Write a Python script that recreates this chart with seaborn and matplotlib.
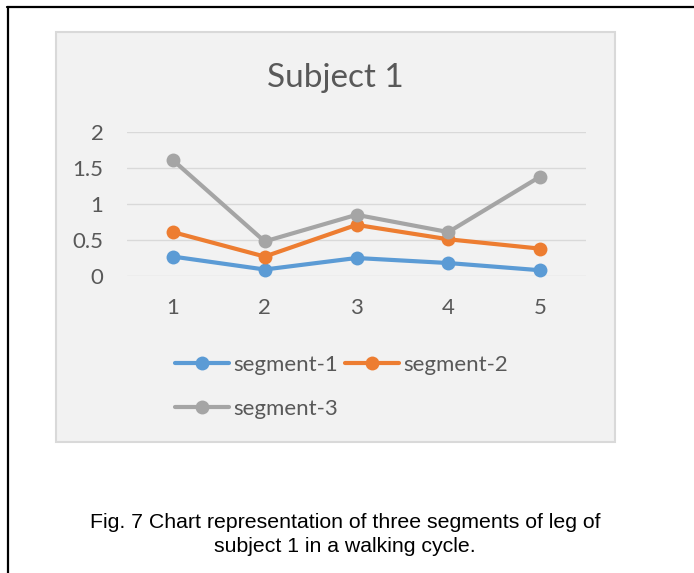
import numpy as np
import pandas as pd
import matplotlib
matplotlib.use("Agg")
import matplotlib.pyplot as plt
from matplotlib.lines import Line2D
from matplotlib.patches import Rectangle
from matplotlib.ticker import FuncFormatter
import seaborn as sns

# Data
positions = [1, 2, 3, 4, 5]
segment_1 = [0.27, 0.09, 0.25, 0.18, 0.08]
segment_2 = [0.61, 0.27, 0.71, 0.51, 0.38]
segment_3 = [1.61, 0.48, 0.85, 0.61, 1.38]
series_names = ["segment-1", "segment-2", "segment-3"]
series_colors = ["#5B9BD5", "#ED7D31", "#A5A5A5"]
y_ticks = [0, 0.5, 1, 1.5, 2]

df = pd.DataFrame({"position": positions,
                   "segment-1": segment_1,
                   "segment-2": segment_2,
                   "segment-3": segment_3})
long_df = df.melt(id_vars = "position", var_name = "segment", value_name = "value")

sns.set_style("white")
plt.rcParams["font.family"] = ["Lato", "DejaVu Sans"]

W, H = 694, 573
fig = plt.figure(figsize = (W / 100, H / 100), dpi = 100)
fig.patch.set_facecolor("white")

def fx(px):
    return px / W

def fy(py):
    return 1 - py / H

# Page frame (top and left edges visible)
fig.add_artist(Line2D([fx(6.5), 1], [fy(6.5), fy(6.5)], transform = fig.transFigure, color = "black", lw = 1.6))
fig.add_artist(Line2D([fx(7.5), fx(7.5)], [fy(6.5), 0], transform = fig.transFigure, color = "black", lw = 1.6))

# Chart area box
box = Rectangle((fx(56), fy(442)), fx(615) - fx(56), fy(32) - fy(442), transform = fig.transFigure,
                facecolor = "#F2F2F2", edgecolor = "#D9D9D9", lw = 1.5, zorder = 0)
fig.add_artist(box)

ax = fig.add_axes([fx(127), fy(276), fx(586) - fx(127), fy(132) - fy(276)])
ax.set_facecolor("none")
ax.set_zorder(2)

for name, color in zip(series_names, series_colors):
    sub = long_df[long_df["segment"] == name]
    sns.lineplot(data = sub, x = "position", y = "value", ax = ax, color = color, label = name,
                 marker = "o", markersize = 10, markeredgewidth = 0, linewidth = 3,
                 clip_on = False, zorder = 3)

ax.set_xlim(0.5, 5.5)
ax.set_ylim(0, 2)
ax.set_xticks(positions)
ax.set_yticks(y_ticks)
ax.yaxis.set_major_formatter(FuncFormatter(lambda v, p: f"{v:g}"))
ax.grid(axis = "y", color = "#D9D9D9", lw = 1)
ax.grid(axis = "x", visible = False)
for s in ax.spines.values():
    s.set_visible(False)
ax.tick_params(axis = "both", length = 0, labelsize = 16, labelcolor = "#595959")
ax.tick_params(axis = "y", pad = 17)
ax.tick_params(axis = "x", pad = 16)
ax.set_xlabel("")
ax.set_ylabel("")

fig.text(fx(335.5), fy(78), "Subject 1", ha = "center", va = "center", fontsize = 24, color = "#595959")

handles, labels = ax.get_legend_handles_labels()
ax.get_legend().remove()
order = [0, 2, 1]
fig.legend([handles[i] for i in order], [labels[i] for i in order], ncol = 2,
           loc = "upper left", bbox_to_anchor = (fx(175), fy(355)), frameon = False,
           fontsize = 16, labelcolor = "#595959", handlelength = 2.45, handletextpad = 0.18,
           columnspacing = 0.3, labelspacing = 1.07, borderpad = 0, borderaxespad = 0)

cap_font = ["Liberation Sans", "DejaVu Sans"]
fig.text(fx(345), fy(522), "Fig. 7 Chart representation of three segments of leg of",
         ha = "center", va = "center", fontsize = 15.3, family = cap_font, color = "black")
fig.text(fx(345), fy(547), "subject 1 in a walking cycle.",
         ha = "center", va = "center", fontsize = 15.3, family = cap_font, color = "black")

fig.savefig("out.png", dpi = 100)
